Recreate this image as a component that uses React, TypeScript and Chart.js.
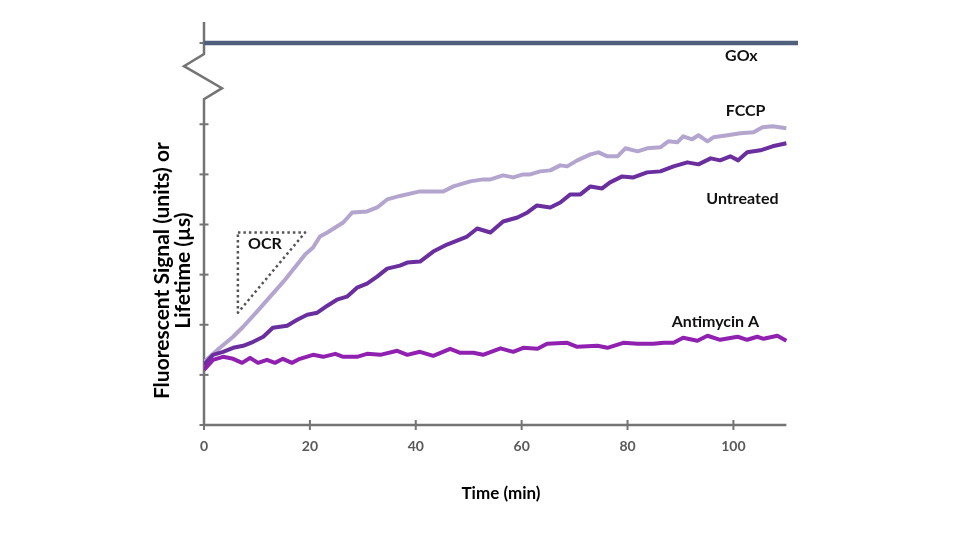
import React, { useEffect, useRef } from "react";
import { Chart, registerables } from "chart.js";

Chart.register(...registerables);

// ---------- data ----------
const fccpTime = [0, 3, 5.5, 7.4, 10, 12.5, 15, 17.6, 19.1, 20.6, 21.9, 23.3, 25.1, 26.3, 28, 30.8, 32.7, 34.6, 37, 40.8, 45.2, 47.1, 50.3, 52.7, 54.1, 56.5, 58.4, 60.3, 61.6, 63.5, 65.4, 67.3, 68.6, 70.5, 73.0, 74.5, 76.2, 78.1, 79.6, 81.9, 83.7, 86.2, 87.7, 89.4, 90.5, 92.2, 93.4, 95.1, 96.2, 98.9, 101.3, 103.8, 105.5, 107.4, 110];
const fccpValue = [1.26, 1.54, 1.76, 1.96, 2.26, 2.56, 2.86, 3.2, 3.4, 3.54, 3.76, 3.84, 3.96, 4.04, 4.24, 4.26, 4.34, 4.5, 4.57, 4.66, 4.66, 4.76, 4.86, 4.9, 4.9, 4.98, 4.94, 5.0, 5.0, 5.06, 5.08, 5.18, 5.16, 5.28, 5.4, 5.44, 5.36, 5.36, 5.52, 5.46, 5.52, 5.54, 5.66, 5.64, 5.76, 5.7, 5.78, 5.66, 5.74, 5.78, 5.82, 5.84, 5.94, 5.96, 5.92];

const untreatedTime = [0, 1.7, 3.6, 5.5, 7.4, 9.3, 11.2, 13.0, 15.7, 17.6, 19.5, 21.4, 23.3, 25.1, 27.0, 28.9, 30.8, 32.7, 34.6, 37.0, 38.4, 40.8, 43.3, 45.9, 47.8, 49.7, 51.6, 54.1, 56.5, 59.2, 61.1, 62.9, 65.4, 67.3, 69.2, 71.1, 73.0, 75.2, 76.7, 79.0, 81.1, 83.7, 86.2, 88.7, 91.3, 93.4, 95.7, 97.5, 99.4, 100.9, 102.6, 105.1, 107.4, 110];
const untreatedValue = [1.2, 1.4, 1.46, 1.54, 1.58, 1.66, 1.76, 1.94, 1.98, 2.1, 2.2, 2.24, 2.38, 2.5, 2.56, 2.74, 2.82, 2.96, 3.12, 3.18, 3.24, 3.26, 3.46, 3.6, 3.68, 3.76, 3.92, 3.84, 4.06, 4.14, 4.24, 4.38, 4.34, 4.44, 4.6, 4.6, 4.76, 4.72, 4.84, 4.96, 4.94, 5.04, 5.06, 5.16, 5.24, 5.2, 5.32, 5.28, 5.36, 5.28, 5.44, 5.48, 5.56, 5.62];

const antimycinTime = [0, 1.7, 3.6, 5.5, 7.2, 8.7, 10.2, 11.9, 13.4, 14.9, 16.6, 18.1, 20.6, 22.5, 24.8, 26.3, 28.9, 30.8, 33.3, 36.5, 38.4, 40.8, 43.3, 46.5, 48.4, 50.9, 52.7, 56.0, 58.4, 60.3, 63.0, 64.8, 68.6, 70.5, 74.3, 76.2, 79.2, 81.9, 84.9, 86.8, 88.7, 90.5, 93.2, 95.1, 97.5, 100.8, 102.6, 104.5, 105.7, 108.3, 110];
const antimycinValue = [1.1, 1.3, 1.36, 1.32, 1.24, 1.34, 1.24, 1.3, 1.24, 1.32, 1.24, 1.32, 1.4, 1.36, 1.42, 1.36, 1.36, 1.42, 1.4, 1.48, 1.4, 1.46, 1.38, 1.52, 1.44, 1.44, 1.4, 1.53, 1.46, 1.54, 1.52, 1.62, 1.64, 1.56, 1.58, 1.54, 1.64, 1.62, 1.62, 1.64, 1.64, 1.74, 1.68, 1.78, 1.7, 1.76, 1.7, 1.76, 1.72, 1.78, 1.68];

const goxTime = [0, 112.2];
const goxValue = [7.62, 7.62];

const ocrTime = [6.4, 19.1, 6.4, 6.4];
const ocrValue = [3.84, 3.84, 2.24, 3.84];

const xTickValues = [0, 20, 40, 60, 80, 100];
const yTickValues = [0, 1, 2, 3, 4, 5, 6, 7.62];
const X_MAX = 112.2;
const X_AXIS_END = 110;
const Y_MAX = 8.04;

// axis break: [pixel offset from axis, value]
const axisBreak = [
  [0, 6.5],
  [18, 6.72],
  [-20, 7.16],
  [0, 7.4],
];

const seriesLabels = [
  { text: "GOx", x: 101.5, y: 7.36 },
  { text: "FCCP", x: 102.3, y: 6.26 },
  { text: "Untreated", x: 101.7, y: 4.52 },
  { text: "Antimycin A", x: 96.6, y: 2.06 },
  { text: "OCR", x: 11.5, y: 3.62 },
];

const yTitleLines = ["Fluorescent Signal (units) or", "Lifetime (µs)"];
const Y_TITLE_CENTER = 3.08;

const FONT = 'Lato, "Open Sans", sans-serif';
const AXIS_COLOR = "#747474";

const toPoints = (t: number[], v: number[]) => t.map((x, i) => ({ x, y: v[i] }));

const decorPlugin = {
  id: "decor",
  beforeDatasetsDraw(chart: any) {
    const { ctx, scales } = chart;
    const x = scales.x;
    const y = scales.y;
    const x0 = x.getPixelForValue(0);
    const y0 = y.getPixelForValue(0);
    ctx.save();
    ctx.strokeStyle = AXIS_COLOR;
    ctx.lineWidth = 2.5;
    ctx.lineCap = "butt";
    ctx.lineJoin = "miter";
    // x axis
    ctx.beginPath();
    ctx.moveTo(x0, y0);
    ctx.lineTo(x.getPixelForValue(X_AXIS_END), y0);
    ctx.stroke();
    ctx.lineWidth = 2;
    xTickValues.forEach((t) => {
      const px = x.getPixelForValue(t);
      ctx.beginPath();
      ctx.moveTo(px, y0 - 5);
      ctx.lineTo(px, y0 + 5);
      ctx.stroke();
    });
    // y axis with break
    ctx.lineWidth = 2.5;
    ctx.beginPath();
    ctx.moveTo(x0, y0);
    axisBreak.forEach(([dx, v]) => ctx.lineTo(x0 + dx, y.getPixelForValue(v)));
    ctx.lineTo(x0, y.getPixelForValue(Y_MAX));
    ctx.stroke();
    ctx.lineWidth = 2;
    yTickValues.forEach((v) => {
      const py = y.getPixelForValue(v);
      ctx.beginPath();
      ctx.moveTo(x0 - 4.5, py);
      ctx.lineTo(x0 + 4.5, py);
      ctx.stroke();
    });
    // y title
    const mid = y.getPixelForValue(Y_TITLE_CENTER);
    ctx.fillStyle = "#000";
    ctx.font = `bold 21px ${FONT}`;
    ctx.textAlign = "center";
    ctx.textBaseline = "middle";
    yTitleLines.forEach((line, i) => {
      ctx.save();
      ctx.translate(x0 - 42 + i * 21, mid);
      ctx.rotate(-Math.PI / 2);
      ctx.fillText(line, 0, 0);
      ctx.restore();
    });
    ctx.restore();
  },
  afterDatasetsDraw(chart: any) {
    const { ctx, scales } = chart;
    ctx.save();
    ctx.fillStyle = "#111";
    ctx.font = `bold 16px ${FONT}`;
    ctx.textAlign = "center";
    ctx.textBaseline = "middle";
    seriesLabels.forEach((l) => {
      ctx.fillText(l.text, scales.x.getPixelForValue(l.x), scales.y.getPixelForValue(l.y));
    });
    ctx.restore();
  },
};

export default function App() {
  const ref = useRef<HTMLCanvasElement | null>(null);
  useEffect(() => {
    if (!ref.current) return;
    const chart = new Chart(ref.current, {
      type: "line",
      data: {
        datasets: [
          {
            label: "Antimycin A",
            data: toPoints(antimycinTime, antimycinValue),
            borderColor: "#9020B0",
            borderWidth: 4,
          },
          {
            label: "Untreated",
            data: toPoints(untreatedTime, untreatedValue),
            borderColor: "#6A2E9E",
            borderWidth: 4,
          },
          {
            label: "FCCP",
            data: toPoints(fccpTime, fccpValue),
            borderColor: "#B4A5CF",
            borderWidth: 4,
          },
          {
            label: "GOx",
            data: toPoints(goxTime, goxValue),
            borderColor: "#4F5F7C",
            borderWidth: 4.5,
          },
          {
            label: "OCR",
            data: toPoints(ocrTime, ocrValue),
            borderColor: "#555555",
            borderWidth: 2.5,
            borderDash: [2.5, 3],
            borderCapStyle: "butt",
          },
        ] as any,
      },
      options: {
        responsive: false,
        animation: false,
        events: [],
        elements: {
          point: { radius: 0 },
          line: { tension: 0, borderJoinStyle: "round", fill: false },
        },
        layout: { padding: { top: 22, right: 162, left: 0, bottom: 32 } },
        plugins: { legend: { display: false }, tooltip: { enabled: false } },
        scales: {
          x: {
            type: "linear",
            min: 0,
            max: X_MAX,
            grid: { display: false },
            border: { display: false },
            afterBuildTicks: (s: any) => {
              s.ticks = xTickValues.map((value) => ({ value }));
            },
            afterFit: (s: any) => {
              s.height = 83;
            },
            ticks: {
              padding: 5,
              color: "#595959",
              font: { family: FONT, size: 14, weight: "bold" },
              maxRotation: 0,
            },
            title: {
              display: true,
              text: "Time (min)",
              color: "#000",
              font: { family: FONT, size: 17, weight: "bold" },
            },
          },
          y: {
            type: "linear",
            min: 0,
            max: Y_MAX,
            grid: { display: false },
            border: { display: false },
            ticks: { display: false },
            afterFit: (s: any) => {
              s.width = 204;
            },
          },
        },
      } as any,
      plugins: [decorPlugin],
    });
    return () => chart.destroy();
  }, []);
  return (
    <div style={{ position: "absolute", left: 0, top: 0, width: 960, height: 540, background: "#fff" }}>
      <canvas ref={ref} width={960} height={540} />
    </div>
  );
}
